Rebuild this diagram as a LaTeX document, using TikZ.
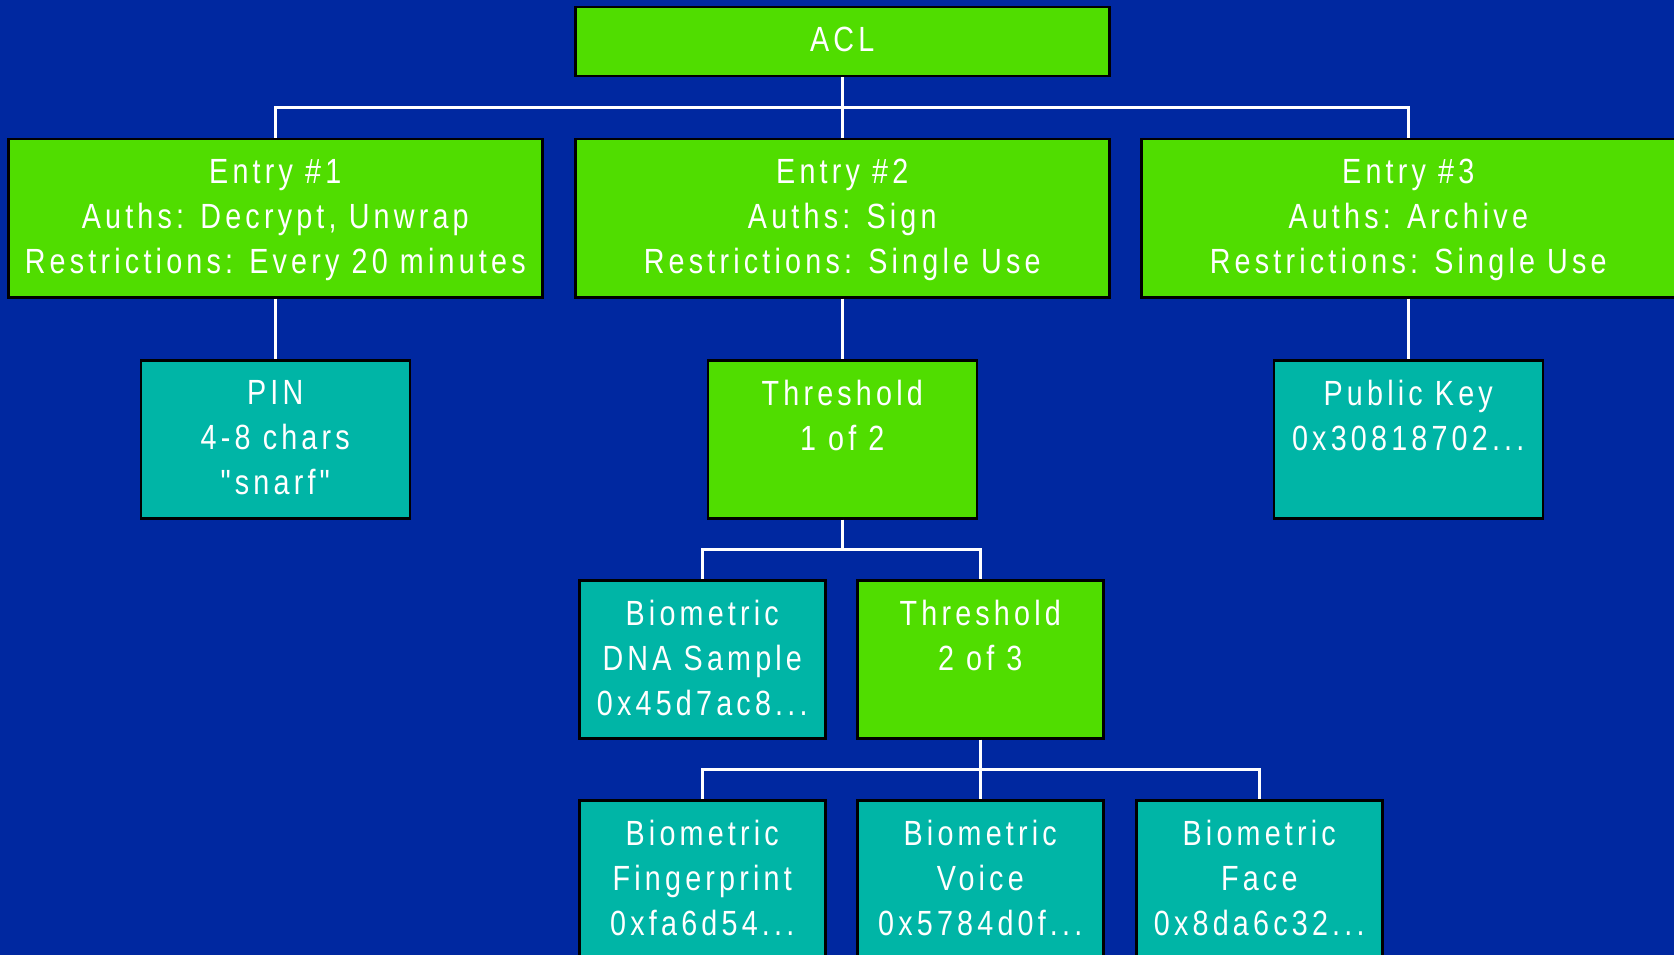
\documentclass[tikz,border=0pt]{standalone}
\usepackage{fontspec}
\setmainfont{Liberation Sans}[FakeStretch=0.82,LetterSpace=12,Ligatures=TeXOff]
\usetikzlibrary{calc}
\definecolor{bgblue}{RGB}{0,40,160}
\definecolor{boxgreen}{RGB}{80,221,0}
\definecolor{boxteal}{RGB}{0,181,166}
\newcommand{\boxtxt}[3]{\parbox[t][#2pt][t]{#1pt}{\centering\fontsize{35}{45}\selectfont\vspace*{20pt}#3\par}}
\tikzset{
  box/.style={draw=black, line width=2.5pt, inner sep=0pt, anchor=north west, text=white},
  gbox/.style={box, fill=boxgreen},
  tbox/.style={box, fill=boxteal},
  conn/.style={draw=white, line width=2.5pt}
}
\begin{document}
\begin{tikzpicture}[x=1pt,y=-1pt]
\useasboundingbox (0,0) rectangle (1674,955);
\fill[bgblue] (0,0) rectangle (1674,955);
\node[gbox] (acl) at (574,6) {\boxtxt{534}{69}{ACL}};
\node[gbox] (e1) at (7,138) {\boxtxt{534}{158}{Entry \#1\\Auths: Decrypt, Unwrap\\Restrictions: Every 20 minutes}};
\node[gbox] (e2) at (574,138) {\boxtxt{534}{158}{Entry \#2\\Auths: Sign\\Restrictions: Single Use}};
\node[gbox] (e3) at (1140,138) {\boxtxt{534}{158}{Entry \#3\\Auths: Archive\\Restrictions: Single Use}};
\node[tbox] (pin) at (139.5,359) {\boxtxt{269}{158}{PIN\\4-8 chars\\"snarf"}};
\node[gbox] (thra) at (706.5,359) {\boxtxt{269}{158}{Threshold\\1 of 2}};
\node[tbox] (pk) at (1272.5,359) {\boxtxt{269}{158}{Public Key\\0x30818702...}};
\node[tbox] (dna) at (578,579) {\boxtxt{246}{158}{Biometric\\DNA Sample\\0x45d7ac8...}};
\node[gbox] (thrb) at (856,579) {\boxtxt{246}{158}{Threshold\\2 of 3}};
\node[tbox] (fp) at (578,799) {\boxtxt{246}{158}{Biometric\\Fingerprint\\0xfa6d54...}};
\node[tbox] (voice) at (856,799) {\boxtxt{246}{158}{Biometric\\Voice\\0x5784d0f...}};
\node[tbox] (face) at (1135,799) {\boxtxt{246}{158}{Biometric\\Face\\0x8da6c32...}};
\coordinate (b1) at ($(acl.south)!0.5!(acl.south |- e2.north)$);
\coordinate (b2) at ($(thra.south)!0.5!(thra.south |- dna.north)$);
\coordinate (b3) at ($(thrb.south)!0.5!(thrb.south |- voice.north)$);
\draw[conn] (acl.south) -- (e2.north);
\draw[conn] (e1.north) |- (b1) -| (e3.north);
\draw[conn] (e1.south) -- (pin.north);
\draw[conn] (e2.south) -- (thra.north);
\draw[conn] (e3.south) -- (pk.north);
\draw[conn] (thra.south) -- (b2);
\draw[conn] (dna.north) |- (b2) -| (thrb.north);
\draw[conn] (thrb.south) -- (voice.north);
\draw[conn] (fp.north) |- (b3) -| (face.north);
\end{tikzpicture}
\end{document}
